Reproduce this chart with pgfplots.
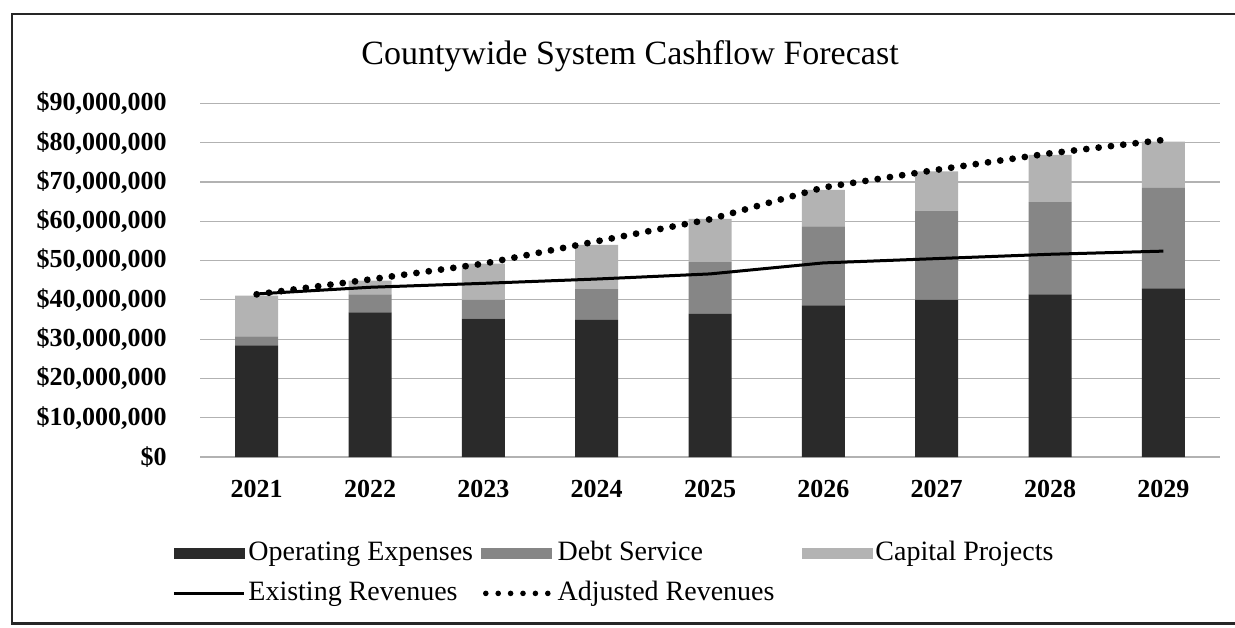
\documentclass[border=0pt]{standalone}
\usepackage{fontspec}
\setmainfont{Liberation Serif}
\usepackage{pgfplots}
\usepackage{pgfplotstable}
\pgfplotsset{compat=1.18}
\definecolor{opc}{HTML}{2A2A2A}
\definecolor{debtc}{HTML}{868686}
\definecolor{capc}{HTML}{B3B3B3}
\pgfplotstableread{
x op debt cap exist adj
0 28.4 2.3 10.4 41.5 41.4
1 36.8 4.6 3.5 43.2 45.2
2 35.2 4.8 9.2 44.2 49.2
3 34.9 7.8 11.3 45.3 54.9
4 36.4 13.2 11.0 46.6 60.5
5 38.6 20.1 9.3 49.4 68.6
6 40.0 22.7 10.0 50.5 73.1
7 41.4 23.5 12.0 51.6 77.3
8 42.9 25.6 11.8 52.4 80.7
}\data
\begin{document}
\begin{tikzpicture}
\useasboundingbox (0,0) rectangle (617.5pt,313.5pt);
\draw[line width=1.1pt, black!85] (625pt,306.5pt) -- (6pt,306.5pt) -- (6pt,1.8pt) -- (625pt,1.8pt);
\node[anchor=base, font=\fontsize{17}{20}\selectfont] at (315pt,281pt) {Countywide System Cashflow Forecast};
\pgfplotsset{common/.style={at={(100pt,85pt)}, anchor=south west, scale only axis,
  width=510pt, height=176.8pt, xmin=-0.5, xmax=8.5, ymin=0, ymax=90}}
\begin{axis}[common,
  ybar stacked, bar width=21.5pt,
  axis line style={draw=none}, tick style={draw=none},
  ymajorgrids, major grid style={black!30, line width=0.6pt},
  xtick={0,...,8}, xticklabels={2021,2022,2023,2024,2025,2026,2027,2028,2029},
  ytick={0,10,...,90},
  yticklabels={{\$0},{\$10,000,000},{\$20,000,000},{\$30,000,000},{\$40,000,000},{\$50,000,000},{\$60,000,000},{\$70,000,000},{\$80,000,000},{\$90,000,000}},
  tick label style={font=\fontsize{13}{15}\selectfont\bfseries},
  yticklabel style={anchor=east, inner sep=0pt, xshift=-16.5pt},
  xticklabel style={anchor=north, inner sep=0pt, yshift=-11.5pt},
]
\addplot[fill=opc, draw=none] table[x=x, y=op] {\data};
\addplot[fill=debtc, draw=none] table[x=x, y=debt] {\data};
\addplot[fill=capc, draw=none] table[x=x, y=cap] {\data};
\end{axis}
\begin{axis}[common, hide axis,
  legend columns=3,
  legend cell align=left,
  legend style={at={(-0.02745,-0.2347)}, anchor=north west, draw=none, fill=none,
    inner xsep=0pt, inner ysep=0pt, column sep=0pt, row sep=7pt,
    font=\fontsize{14}{16}\selectfont,
    nodes={inner xsep=1.5pt, inner ysep=0pt, text height=10pt, text depth=3pt}},
]
\addlegendimage{legend image code/.code={\fill[opc] (0pt,-2.5pt) rectangle (35pt,2.5pt);}}
\addlegendentry{\makebox[115pt][l]{Operating Expenses}}
\addlegendimage{legend image code/.code={\fill[debtc] (0pt,-2.5pt) rectangle (35pt,2.5pt);}}
\addlegendentry{\makebox[120.5pt][l]{Debt Service}}
\addlegendimage{legend image code/.code={\fill[capc] (0pt,-2.5pt) rectangle (35pt,2.5pt);}}
\addlegendentry{Capital Projects}
\addplot[black, line width=1.5pt, legend image code/.code={\draw[black, line width=1.5pt] (0pt,0pt) -- (35pt,0pt);}]
  table[x=x, y=exist] {\data};
\addlegendentry{Existing Revenues}
\addplot[black, line width=3.4pt, line cap=round, dash pattern=on 0pt off 6.2pt,
  legend image code/.code={\draw[black, line width=2.8pt, line cap=round, dash pattern=on 0pt off 6.2pt] (2pt,0pt) -- (35pt,0pt);}]
  table[x=x, y=adj] {\data};
\addlegendentry{Adjusted Revenues}
\end{axis}
\end{tikzpicture}
\end{document}
